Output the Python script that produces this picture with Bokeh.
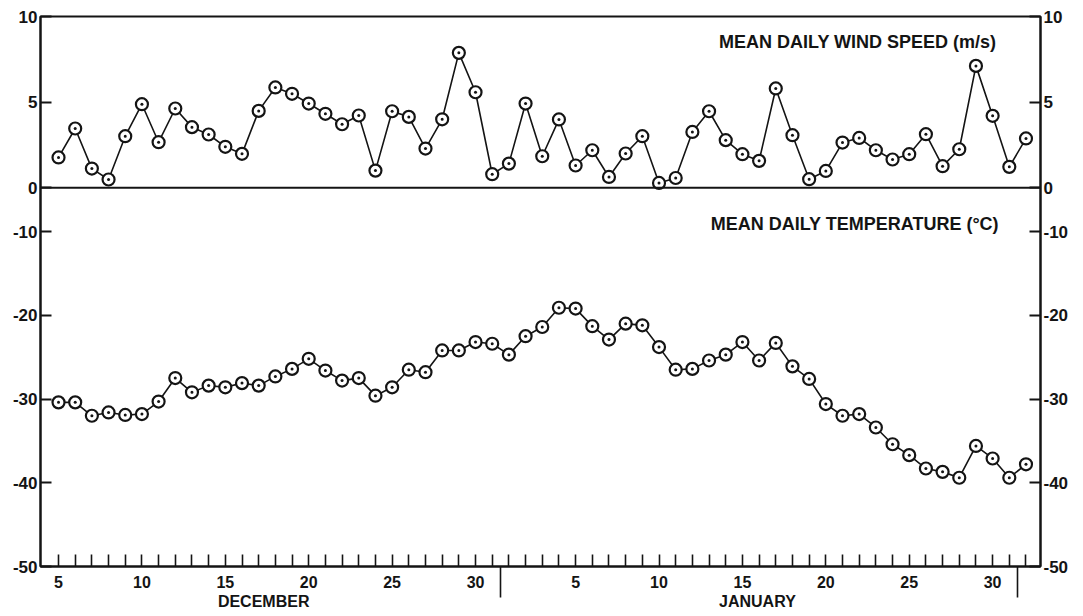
from bokeh.plotting import figure
from bokeh.models import Range1d, LinearAxis, FixedTicker, Span, Label, ColumnDataSource
from bokeh.embed import file_html
from bokeh.resources import INLINE

# Day index: 1 Dec = 1, 1 Jan = 32, 1 Feb = 63
days = list(range(5, 64))
wind = [1.77, 3.46, 1.12, 0.48, 3.01, 4.88, 2.66, 4.63, 3.54, 3.11,
        2.39, 1.98, 4.49, 5.86, 5.49, 4.92, 4.32, 3.71, 4.22, 1.00,
        4.47, 4.14, 2.29, 4.00, 7.88, 5.58, 0.79, 1.41, 4.92, 1.84,
        3.99, 1.30, 2.19, 0.63, 2.00, 3.01, 0.28, 0.57, 3.26, 4.47,
        2.78, 1.96, 1.57, 5.80, 3.07, 0.50, 0.98, 2.64, 2.91, 2.19,
        1.65, 1.96, 3.13, 1.26, 2.25, 7.12, 4.20, 1.22, 2.88]
temp = [-30.4, -30.4, -32.0, -31.6, -31.9, -31.8, -30.3, -27.5, -29.2, -28.4,
        -28.6, -28.1, -28.4, -27.3, -26.4, -25.2, -26.6, -27.8, -27.5, -29.6,
        -28.6, -26.5, -26.8, -24.2, -24.2, -23.2, -23.4, -24.7, -22.5, -21.4,
        -19.1, -19.2, -21.3, -22.9, -21.0, -21.2, -23.8, -26.5, -26.4, -25.4,
        -24.7, -23.2, -25.4, -23.3, -26.1, -27.6, -30.6, -32.0, -31.8, -33.4,
        -35.4, -36.7, -38.3, -38.7, -39.4, -35.6, -37.1, -39.4, -37.8]

x_tick_days = list(range(5, 64))
x_tick_labels = {5: "5", 10: "10", 15: "15", 20: "20", 25: "25", 30: "30",
                 36: "5", 41: "10", 46: "15", 51: "20", 56: "25", 61: "30"}
month_breaks = [31.5, 62.5]
month_names = ["DECEMBER", "JANUARY"]
month_centers = [17.3, 46.9]
wind_ticks = [0, 5, 10]
temp_ticks = [-50, -40, -30, -20, -10]
wind_title = "MEAN DAILY WIND SPEED (m/s)"
temp_title = "MEAN DAILY TEMPERATURE (°C)"

FONT = "Liberation Sans"
INK = "#141414"

T0, T1 = -50.0, 15.68
W0, W1 = -22.13, 10.005

p = figure(width=1083, height=616, output_backend="svg", toolbar_location=None,
           x_range=Range1d(3.92, 63.87), y_range=Range1d(T0, T1),
           min_border_left=40, min_border_right=43, min_border_top=16, min_border_bottom=50)
p.extra_y_ranges = {"wind": Range1d(W0, W1)}
p.xgrid.visible = False
p.ygrid.visible = False
p.outline_line_color = INK
p.outline_line_width = 2
p.background_fill_color = "white"
p.border_fill_color = "white"

def w2t(w):
    return round(T0 + (w - W0) * (T1 - T0) / (W1 - W0), 4)

y_ticks = [float(t) for t in temp_ticks] + [w2t(w) for w in wind_ticks]
y_over = {float(t): str(t) for t in temp_ticks}
for w in wind_ticks:
    y_over[w2t(w)] = str(w)

def style_y(ax):
    ax.ticker = FixedTicker(ticks=y_ticks, minor_ticks=[])
    ax.major_label_overrides = y_over
    ax.major_tick_in = 11
    ax.major_tick_out = 0
    ax.minor_tick_in = 0
    ax.minor_tick_out = 0
    ax.major_tick_line_width = 2
    ax.major_tick_line_color = INK
    ax.axis_line_width = 2
    ax.axis_line_color = INK
    ax.major_label_text_font = FONT
    ax.major_label_text_font_style = "bold"
    ax.major_label_text_font_size = "17px"
    ax.major_label_text_color = INK
    ax.major_label_standoff = 3

style_y(p.yaxis[0])
right = LinearAxis()
style_y(right)
p.add_layout(right, "right")

xa = p.xaxis[0]
xa.ticker = FixedTicker(ticks=x_tick_days, minor_ticks=month_breaks)
xa.major_label_overrides = {d: x_tick_labels.get(d, "") for d in x_tick_days}
xa.major_tick_in = 12
xa.major_tick_out = 0
xa.minor_tick_in = 0
xa.minor_tick_out = 31
xa.major_tick_line_width = 1.6
xa.minor_tick_line_width = 1.6
xa.major_tick_line_color = INK
xa.minor_tick_line_color = INK
xa.axis_line_width = 2
xa.axis_line_color = INK
xa.major_label_text_font = FONT
xa.major_label_text_font_style = "bold"
xa.major_label_text_font_size = "16px"
xa.major_label_text_color = INK
xa.major_label_standoff = -22

ma = LinearAxis()
ma.ticker = FixedTicker(ticks=month_centers, minor_ticks=[])
ma.major_label_overrides = {c: n for c, n in zip(month_centers, month_names)}
ma.axis_line_color = None
ma.major_tick_line_color = None
ma.minor_tick_line_color = None
ma.major_tick_out = 0
ma.major_tick_in = 0
ma.minor_tick_out = 0
ma.minor_tick_in = 0
ma.major_label_standoff = 2
ma.major_label_text_font = FONT
ma.major_label_text_font_style = "bold"
ma.major_label_text_font_size = "16px"
ma.major_label_text_color = INK
p.add_layout(ma, "below")

# divider between the two panels (wind = 0)
p.add_layout(Span(location=0, dimension="width", y_range_name="wind",
                  line_color=INK, line_width=2))

src = ColumnDataSource(dict(day=days, wind=wind, temp=temp))
p.line("day", "wind", source=src, y_range_name="wind", line_color=INK, line_width=1.6)
p.scatter("day", "wind", source=src, y_range_name="wind", marker="circle_dot", size=12,
          line_color=INK, line_width=2.2, fill_color="white")
p.line("day", "temp", source=src, line_color=INK, line_width=1.6)
p.scatter("day", "temp", source=src, marker="circle_dot", size=12,
          line_color=INK, line_width=2.2, fill_color="white")

p.add_layout(Label(x=44.6, y=8.5, y_range_name="wind", text=wind_title,
                   text_baseline="middle", text_font=FONT, text_font_style="bold",
                   text_font_size="18px", text_color=INK))
p.add_layout(Label(x=44.1, y=-9.04, text=temp_title,
                   text_baseline="middle", text_font=FONT, text_font_style="bold",
                   text_font_size="18px", text_color=INK))

open("out.html", "w").write(file_html(p, INLINE))
